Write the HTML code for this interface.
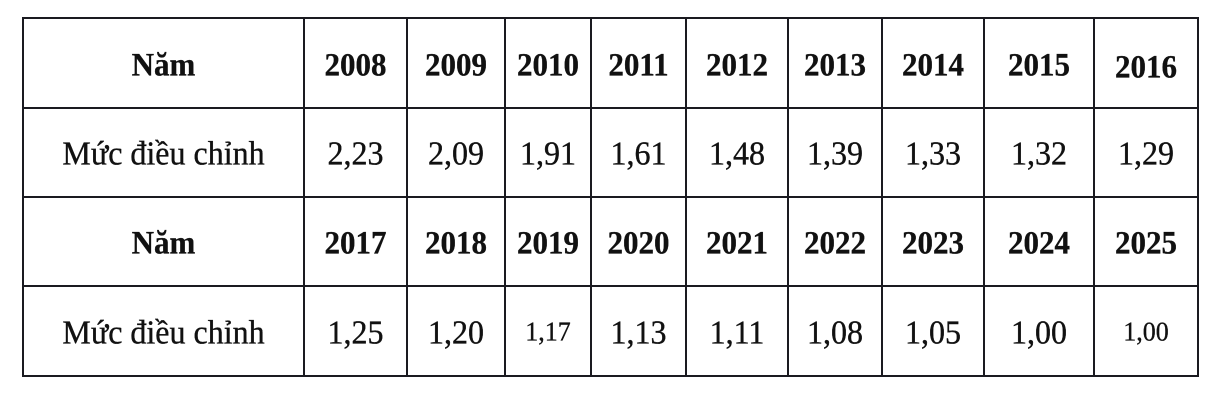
<!DOCTYPE html>
<html><head><meta charset="utf-8">
<style>
html,body{margin:0;padding:0;background:#fff;}
body{width:1232px;height:416px;position:relative;overflow:hidden;font-family:"Liberation Serif",serif;color:#111;}
.h{position:absolute;height:2px;background:#1a1a20;}
.v{position:absolute;width:2px;background:#1a1a20;}
.c{position:absolute;display:flex;align-items:center;justify-content:center;white-space:nowrap;}
.c span{display:inline-block;transform:scaleY(1.07);}
.b{font-weight:bold;font-size:31px;-webkit-text-stroke:0.3px #111;}
.r{font-size:32px;-webkit-text-stroke:0.35px #111;}
.s{font-size:26px;-webkit-text-stroke:0.3px #111;}
</style></head><body>
<div class="h" style="left:22px;width:1177px;top:17px;"></div>
<div class="h" style="left:22px;width:1177px;top:107px;"></div>
<div class="h" style="left:22px;width:1177px;top:196px;"></div>
<div class="h" style="left:22px;width:1177px;top:285px;"></div>
<div class="h" style="left:22px;width:1177px;top:375px;"></div>
<div class="v" style="left:22px;top:17px;height:360px;"></div>
<div class="v" style="left:303px;top:17px;height:360px;"></div>
<div class="v" style="left:406px;top:17px;height:360px;"></div>
<div class="v" style="left:504px;top:17px;height:360px;"></div>
<div class="v" style="left:590px;top:17px;height:360px;"></div>
<div class="v" style="left:685px;top:17px;height:360px;"></div>
<div class="v" style="left:787px;top:17px;height:360px;"></div>
<div class="v" style="left:881px;top:17px;height:360px;"></div>
<div class="v" style="left:983px;top:17px;height:360px;"></div>
<div class="v" style="left:1093px;top:17px;height:360px;"></div>
<div class="v" style="left:1197px;top:17px;height:360px;"></div>

<div class="c b" style="left:24px;width:279px;top:21px;height:88px;"><span>Năm</span></div>
<div class="c b" style="left:305px;width:101px;top:21px;height:88px;"><span>2008</span></div>
<div class="c b" style="left:408px;width:96px;top:21px;height:88px;"><span>2009</span></div>
<div class="c b" style="left:506px;width:84px;top:21px;height:88px;"><span>2010</span></div>
<div class="c b" style="left:592px;width:93px;top:21px;height:88px;"><span>2011</span></div>
<div class="c b" style="left:687px;width:100px;top:21px;height:88px;"><span>2012</span></div>
<div class="c b" style="left:789px;width:92px;top:21px;height:88px;"><span>2013</span></div>
<div class="c b" style="left:883px;width:100px;top:21px;height:88px;"><span>2014</span></div>
<div class="c b" style="left:985px;width:108px;top:21px;height:88px;"><span>2015</span></div>
<div class="c b" style="left:1095px;width:102px;top:23px;height:88px;"><span>2016</span></div>

<div class="c r" style="left:24px;width:279px;top:110px;height:87px;"><span>Mức điều chỉnh</span></div>
<div class="c r" style="left:305px;width:101px;top:110px;height:87px;"><span>2,23</span></div>
<div class="c r" style="left:408px;width:96px;top:110px;height:87px;"><span>2,09</span></div>
<div class="c r" style="left:506px;width:84px;top:110px;height:87px;"><span>1,91</span></div>
<div class="c r" style="left:592px;width:93px;top:110px;height:87px;"><span>1,61</span></div>
<div class="c r" style="left:687px;width:100px;top:110px;height:87px;"><span>1,48</span></div>
<div class="c r" style="left:789px;width:92px;top:110px;height:87px;"><span>1,39</span></div>
<div class="c r" style="left:883px;width:100px;top:110px;height:87px;"><span>1,33</span></div>
<div class="c r" style="left:985px;width:108px;top:110px;height:87px;"><span>1,32</span></div>
<div class="c r" style="left:1095px;width:102px;top:110px;height:87px;"><span>1,29</span></div>

<div class="c b" style="left:24px;width:279px;top:199px;height:87px;"><span>Năm</span></div>
<div class="c b" style="left:305px;width:101px;top:199px;height:87px;"><span>2017</span></div>
<div class="c b" style="left:408px;width:96px;top:199px;height:87px;"><span>2018</span></div>
<div class="c b" style="left:506px;width:84px;top:199px;height:87px;"><span>2019</span></div>
<div class="c b" style="left:592px;width:93px;top:199px;height:87px;"><span>2020</span></div>
<div class="c b" style="left:687px;width:100px;top:199px;height:87px;"><span>2021</span></div>
<div class="c b" style="left:789px;width:92px;top:199px;height:87px;"><span>2022</span></div>
<div class="c b" style="left:883px;width:100px;top:199px;height:87px;"><span>2023</span></div>
<div class="c b" style="left:985px;width:108px;top:199px;height:87px;"><span>2024</span></div>
<div class="c b" style="left:1095px;width:102px;top:199px;height:87px;"><span>2025</span></div>

<div class="c r" style="left:24px;width:279px;top:288px;height:88px;"><span>Mức điều chỉnh</span></div>
<div class="c r" style="left:305px;width:101px;top:288px;height:88px;"><span>1,25</span></div>
<div class="c r" style="left:408px;width:96px;top:288px;height:88px;"><span>1,20</span></div>
<div class="c s" style="left:506px;width:84px;top:288px;height:88px;"><span>1,17</span></div>
<div class="c r" style="left:592px;width:93px;top:288px;height:88px;"><span>1,13</span></div>
<div class="c r" style="left:687px;width:100px;top:288px;height:88px;"><span>1,11</span></div>
<div class="c r" style="left:789px;width:92px;top:288px;height:88px;"><span>1,08</span></div>
<div class="c r" style="left:883px;width:100px;top:288px;height:88px;"><span>1,05</span></div>
<div class="c r" style="left:985px;width:108px;top:288px;height:88px;"><span>1,00</span></div>
<div class="c s" style="left:1095px;width:102px;top:288px;height:88px;"><span>1,00</span></div>
</body></html>
